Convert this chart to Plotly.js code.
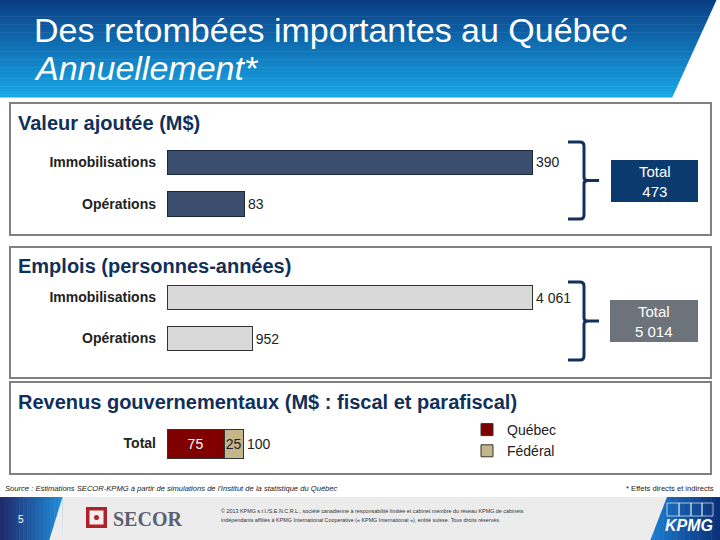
<!DOCTYPE html>
<html><head><meta charset="utf-8">
<script src="https://cdn.plot.ly/plotly-3.0.1.min.js"></script>
<style>html,body{margin:0;padding:0;background:#fff}#chart{width:720px;height:540px}</style>
</head><body><div id="chart"></div>
<script>
// ---- data ----
const categories = ['Immobilisations', 'Opérations'];
const valeurAjoutee = [390, 83];
const emplois = [4061, 952];
const totals = [473, 5014];
const revenusCategory = ['Total'];
const revenusQuebec = [75];
const revenusFederal = [25];
const seriesNames = ['Québec', 'Fédéral'];

// ---- helpers ----
const W = 720, H = 540;
const X = p => p / W;
const Y = p => 1 - p / H;
const fmt = n => String(n).replace(/\B(?=(\d{3})+(?!\d))/g, '\u00a0');
const FONT = '"Liberation Sans", Arial, sans-serif';
const lerp = (a, b, t) => Math.round(a + (b - a) * t);
const hex = h => [parseInt(h.slice(1,3),16), parseInt(h.slice(3,5),16), parseInt(h.slice(5,7),16)];
const mix = (c1, c2, t) => { const a = hex(c1), b = hex(c2); return `rgb(${lerp(a[0],b[0],t)},${lerp(a[1],b[1],t)},${lerp(a[2],b[2],t)})`; };
const pth = pts => pts.map((p, i) => (i ? 'L' : 'M') + X(p[0]) + ',' + Y(p[1])).join(' ') + ' Z';

const shapes = [];
// header gradient
const NH = 36, HH = 97;
for (let i = 0; i < NH; i++) {
  shapes.push({type:'rect', xref:'paper', yref:'paper', x0:0, x1:1,
    y0:Y((i+1)*HH/NH + 0.5), y1:Y(i*HH/NH), line:{width:0}, fillcolor:mix('#0a3f86','#17a6e6', i/(NH-1)), layer:'below'});
}
shapes.push({type:'path', xref:'paper', yref:'paper', path:pth([[717,-1],[721,-1],[721,98],[672,98]]), fillcolor:'#ffffff', line:{width:0}, layer:'below'});

// panels
[[103,235],[247,378],[382,474]].forEach(([t,b]) => shapes.push({type:'rect', xref:'paper', yref:'paper',
  x0:X(10), x1:X(711), y0:Y(b), y1:Y(t), line:{color:'#808080', width:2}, fillcolor:'rgba(0,0,0,0)', layer:'below'}));

// braces
function brace(top, bot) {
  const mid = (top + bot) / 2, xl = 568, xs = 584, xt = 599;
  const P = (x, y) => X(x) + ',' + Y(y);
  return `M${P(xl,top)} L${P(xs-4,top)} Q${P(xs,top)} ${P(xs,top+4)} L${P(xs,mid-3)} Q${P(xs,mid)} ${P(xs+4,mid)} L${P(xt,mid)} ` +
         `M${P(xs+4,mid)} Q${P(xs,mid)} ${P(xs,mid+3)} L${P(xs,bot-4)} Q${P(xs,bot)} ${P(xs-4,bot)} L${P(xl,bot)}`;
}
shapes.push({type:'path', xref:'paper', yref:'paper', path:brace(142,219), line:{color:'#12305a', width:3}});
shapes.push({type:'path', xref:'paper', yref:'paper', path:brace(282,360), line:{color:'#12305a', width:3}});

// total boxes
shapes.push({type:'rect', xref:'paper', yref:'paper', x0:X(611), x1:X(698), y0:Y(202), y1:Y(160), fillcolor:'#0b3a6e', line:{width:0}});
shapes.push({type:'rect', xref:'paper', yref:'paper', x0:X(610), x1:X(698), y0:Y(342), y1:Y(300), fillcolor:'#6c737b', line:{width:0}});

// footer
shapes.push({type:'rect', xref:'paper', yref:'paper', x0:0, x1:1, y0:0, y1:Y(497), fillcolor:'#ececec', line:{width:0}, layer:'below'});
const NF = 16;
for (let i = 0; i < NF; i++) {
  shapes.push({type:'rect', xref:'paper', yref:'paper', x0:X(i*62/NF), x1:X((i+1)*62/NF + 0.5), y0:0, y1:Y(497),
    fillcolor:mix('#202c6e','#1e8ad6', i/(NF-1)), line:{width:0}, layer:'below'});
  shapes.push({type:'rect', xref:'paper', yref:'paper', x0:X(650 + i*70/NF), x1:X(650 + (i+1)*70/NF + 0.5), y0:0, y1:Y(497),
    fillcolor:mix('#1d7ccf','#0b3179', i/(NF-1)), line:{width:0}, layer:'below'});
}
shapes.push({type:'path', xref:'paper', yref:'paper', path:pth([[62.5,497],[63,541],[49,541]]), fillcolor:'#ececec', line:{width:0}, layer:'below'});
shapes.push({type:'path', xref:'paper', yref:'paper', path:pth([[649,497],[667,497],[650,541],[649,541]]), fillcolor:'#ececec', line:{width:0}, layer:'below'});
// SECOR logo mark
shapes.push({type:'rect', xref:'paper', yref:'paper', x0:X(86), x1:X(107), y0:Y(528), y1:Y(507), fillcolor:'#b0202b', line:{width:0}});
shapes.push({type:'rect', xref:'paper', yref:'paper', x0:X(89.5), x1:X(103.5), y0:Y(524.5), y1:Y(510.5), fillcolor:'#f4eeee', line:{width:0}});
shapes.push({type:'circle', xref:'paper', yref:'paper', x0:X(94), x1:X(99), y0:Y(520), y1:Y(515), fillcolor:'#b0202b', line:{width:0}});
// KPMG boxes
[[667,679],[679,691],[691,702],[702,713]].forEach(([a,b]) => shapes.push({type:'rect', xref:'paper', yref:'paper',
  x0:X(a), x1:X(b), y0:Y(516), y1:Y(503), line:{color:'rgba(255,255,255,0.8)', width:0.8}, fillcolor:'rgba(0,0,0,0)'}));

// ---- traces ----
const traces = [
  {type:'bar', orientation:'h', y:categories, x:valeurAjoutee, xaxis:'x', yaxis:'y',
   marker:{color:'#3b4e6e', line:{color:'#1b273b', width:1}},
   text:valeurAjoutee.map(fmt), textposition:'outside', cliponaxis:false,
   textfont:{family:FONT, size:14, color:'#222'}, showlegend:false, hoverinfo:'skip'},
  {type:'bar', orientation:'h', y:categories, x:emplois, xaxis:'x2', yaxis:'y2',
   marker:{color:'#d9d9d9', line:{color:'#333333', width:1}},
   text:emplois.map(fmt), textposition:'outside', cliponaxis:false,
   textfont:{family:FONT, size:14, color:'#222'}, showlegend:false, hoverinfo:'skip'},
  {type:'bar', orientation:'h', name:seriesNames[0], y:revenusCategory, x:revenusQuebec, xaxis:'x3', yaxis:'y3',
   marker:{color:'#800000', line:{color:'#333333', width:1}},
   text:revenusQuebec.map(fmt), textposition:'inside', insidetextanchor:'middle', constraintext:'none',
   textfont:{family:FONT, size:14, color:'#ffffff'}, hoverinfo:'skip'},
  {type:'bar', orientation:'h', name:seriesNames[1], y:revenusCategory, x:revenusFederal, xaxis:'x3', yaxis:'y3',
   marker:{color:'#c4b58b', line:{color:'#333333', width:1}},
   text:revenusFederal.map(fmt), textposition:'inside', insidetextanchor:'middle', constraintext:'none',
   textfont:{family:FONT, size:14, color:'#222'}, hoverinfo:'skip'}
];

const xBase = {domain:[X(167), X(560)], visible:false, fixedrange:true};
const yBase = {autorange:'reversed', showgrid:false, zeroline:false, showline:false, ticks:'',
  tickfont:{family:FONT, size:14, color:'#222', weight:'bold'}, ticklabelstandoff:10, fixedrange:true};

const ann = (text, x, y, opts) => Object.assign({text, x:X(x), y:Y(y), xref:'paper', yref:'paper',
  showarrow:false, xanchor:'left', yanchor:'middle', font:{family:FONT, size:14, color:'#222'}}, opts || {});

const annotations = [
  ann('Des retombées importantes au Québec', 32, 30, {font:{family:FONT, size:34, color:'#ffffff'}}),
  ann('<i>Annuellement*</i>', 32, 68, {font:{family:FONT, size:34, color:'#ffffff'}}),
  ann('Valeur ajoutée (M$)', 16, 123, {font:{family:FONT, size:20, color:'#10305a', weight:'bold'}}),
  ann('Emplois (personnes-années)', 16, 266, {font:{family:FONT, size:20, color:'#10305a', weight:'bold'}}),
  ann('Revenus gouvernementaux (M$ : fiscal et parafiscal)', 16, 402, {font:{family:FONT, size:20, color:'#10305a', weight:'bold'}}),
  ann('Total<br>' + fmt(totals[0]), 654.5, 181, {xanchor:'center', font:{family:FONT, size:15, color:'#ffffff'}}),
  ann('Total<br>' + fmt(totals[1]), 654, 321, {xanchor:'center', font:{family:FONT, size:15, color:'#ffffff'}}),
  {text:fmt(revenusQuebec[0] + revenusFederal[0]), x:revenusQuebec[0] + revenusFederal[0], y:revenusCategory[0],
   xref:'x3', yref:'y3', showarrow:false, xanchor:'left', yanchor:'middle', xshift:2,
   font:{family:FONT, size:14, color:'#222'}},
  ann("<i>Source : Estimations SECOR-KPMG à partir de simulations de l'Institut de la statistique du Québec</i>", 3, 488, {font:{family:FONT, size:7.6, color:'#222'}}),
  ann('* Effets directs et indirects', 716, 488, {xanchor:'right', font:{family:FONT, size:7.6, color:'#222'}}),
  ann('5', 16, 519, {font:{family:FONT, size:10, color:'#ffffff'}}),
  ann('SECOR', 111, 519, {font:{family:'"Liberation Serif", "Times New Roman", serif', size:20, color:'#5a6070', weight:'bold'}}),
  ann('© 2013 KPMG s.r.l./S.E.N.C.R.L., société canadienne à responsabilité limitée et cabinet membre du réseau KPMG de cabinets', 219, 511, {font:{family:FONT, size:5.4, color:'#333'}}),
  ann('indépendants affiliés à KPMG International Cooperative (« KPMG International »), entité suisse. Tous droits réservés.', 219, 520, {font:{family:FONT, size:5.4, color:'#333'}}),
  ann('<b><i>KPMG</i></b>', 663, 525, {font:{family:FONT, size:16, color:'#ffffff'}})
];

const layout = {
  width:W, height:H, margin:{l:0, r:0, t:0, b:0}, autosize:false,
  paper_bgcolor:'#ffffff', plot_bgcolor:'rgba(0,0,0,0)',
  barmode:'stack', bargap:0.42,
  font:{family:FONT},
  xaxis: Object.assign({}, xBase, {anchor:'y', range:[0, 418.8]}),
  yaxis: Object.assign({}, yBase, {anchor:'x', domain:[Y(224.75), Y(141.75)]}),
  xaxis2: Object.assign({}, xBase, {anchor:'y2', range:[0, 4361]}),
  yaxis2: Object.assign({}, yBase, {anchor:'x2', domain:[Y(359), Y(277)]}),
  xaxis3: Object.assign({}, xBase, {anchor:'y3', range:[0, 517]}),
  yaxis3: Object.assign({}, yBase, {anchor:'x3', domain:[Y(468.5), Y(418.5)]}),
  showlegend:true,
  legend:{x:X(467), y:Y(414), xanchor:'left', yanchor:'top', traceorder:'normal',
    bgcolor:'rgba(0,0,0,0)', font:{family:FONT, size:14, color:'#222'}, itemwidth:30, tracegroupgap:0},
  shapes, annotations
};

Plotly.newPlot('chart', traces, layout, {staticPlot:true, displayModeBar:false});
</script></body></html>
